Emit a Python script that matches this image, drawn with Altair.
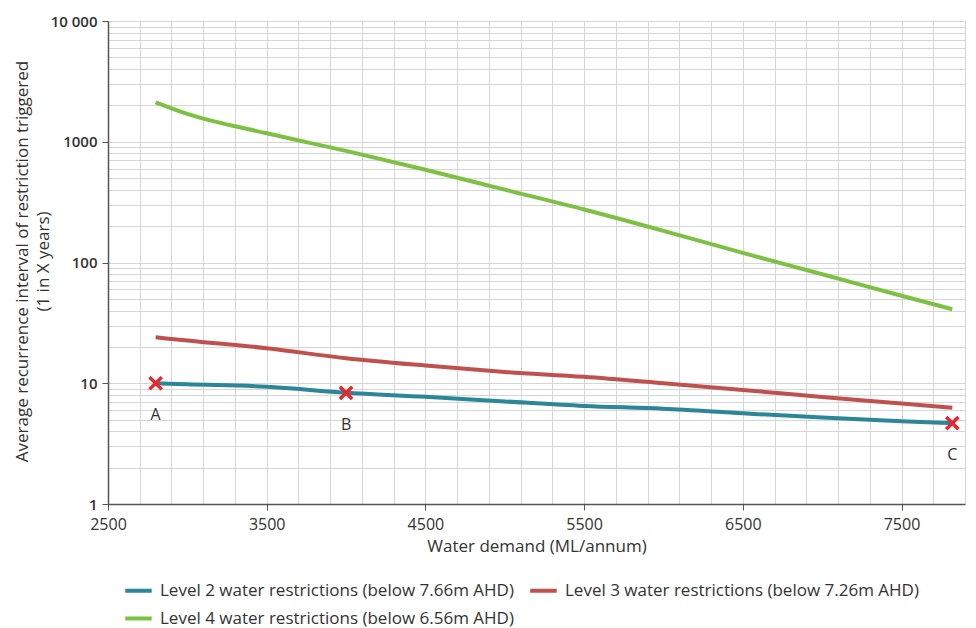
import altair as alt
import pandas as pd

# ---- data ----
demand = [2800, 3000, 3500, 4000, 4500, 5000, 5500, 6000, 6500, 7000, 7500, 7820]
level2 = [10.0, 9.8, 9.36, 8.34, 7.73, 7.07, 6.49, 6.15, 5.64, 5.20, 4.85, 4.68]
level3 = [24.0, 22.6, 19.5, 16.1, 14.0, 12.4, 11.3, 10.0, 8.8, 7.7, 6.8, 6.27]
level4 = [2120, 1700, 1175, 840, 586, 401, 275, 183, 120, 80, 53, 41]

series_names = [
    "Level 2 water restrictions (below 7.66m AHD)",
    "Level 3 water restrictions (below 7.26m AHD)",
    "Level 4 water restrictions (below 6.56m AHD)",
]
series_colors = ["#2b8699", "#c0504d", "#7cc142"]

point_demand = [2800, 4000, 7820]
point_value = [10.0, 8.34, 4.68]
point_label = ["A", "B", "C"]

x_grid = list(range(2500, 7901, 200))
y_grid = [m * 10 ** e for e in range(4) for m in range(1, 10)] + [10000]

# ---- build tables ----
rows = []
for name, vals in zip(series_names, [level2, level3, level4]):
    for d, v in zip(demand, vals):
        rows.append({"demand": d, "value": v, "series": name})
lines_df = pd.DataFrame(rows)
points_df = pd.DataFrame({"demand": point_demand, "value": point_value, "label": point_label})

FONT = "Open Sans"
TXT = "#333333"

x_scale = alt.Scale(domain=[2500, 7900], nice=False, zero=False)
y_scale = alt.Scale(type="log", domain=[1, 10000], nice=False)

x_axis = alt.Axis(
    values=x_grid,
    tickCount=200,
    format="d",
    labelExpr="(datum.value - 2500) % 1000 == 0 ? datum.label : ''",
    tickColor={"condition": {"test": "(datum.value - 2500) % 1000 == 0", "value": "#555555"},
               "value": "transparent"},
    tickSize=6,
    labelPadding=6,
    labelFontSize=16,
    labelColor=TXT,
    labelFont=FONT,
    labelOverlap=False,
    labelFlush=False,
    title="Water demand (ML/annum)",
    titleFont=FONT,
    titleFontSize=17,
    titleFontWeight="normal",
    titleColor=TXT,
    titlePadding=6,
    grid=True,
    gridColor="#d6d6d6",
    domainColor="#555555",
    domainWidth=1.5,
)

y_axis = alt.Axis(
    values=y_grid,
    tickCount=200,
    format=".0f",
    labelExpr="indexof([1,10,100,1000,10000], datum.value) >= 0 ? (datum.value == 10000 ? '10 000' : datum.label) : ''",
    tickColor={"condition": {"test": "indexof([1,10,100,1000,10000], datum.value) >= 0", "value": "#555555"},
               "value": "transparent"},
    tickSize=6,
    labelPadding=5,
    labelFontSize=15,
    labelFontWeight=600,
    labelColor=TXT,
    labelFont=FONT,
    labelOverlap=False,
    title=["Average recurrence interval of restriction triggered", "(1 in X years)"],
    titleFont=FONT,
    titleFontSize=17,
    titleFontWeight="normal",
    titleColor=TXT,
    titleLineHeight=21,
    titleAngle=270,
    titleX=-86,
    titleY=240,
    titleAlign="center",
    titleBaseline="middle",
    grid=True,
    gridColor="#d6d6d6",
    domainColor="#555555",
    domainWidth=1.5,
)

lines = alt.Chart(lines_df).mark_line(strokeWidth=4, interpolate="monotone").encode(
    x=alt.X("demand:Q", scale=x_scale, axis=x_axis),
    y=alt.Y("value:Q", scale=y_scale, axis=y_axis),
    color=alt.Color(
        "series:N",
        scale=alt.Scale(domain=series_names, range=series_colors),
        sort=series_names,
        legend=alt.Legend(
            orient="none",
            direction="horizontal",
            legendX=15,
            legendY=554,
            columns=2,
            title=None,
            symbolType="stroke",
            symbolStrokeWidth=4,
            symbolSize=700,
            labelFont=FONT,
            labelFontSize=17,
            labelColor=TXT,
            labelLimit=600,
            labelOffset=6,
            columnPadding=8,
            rowPadding=4,
        ),
    ),
    order=alt.Order("demand:Q"),
)

markers = alt.Chart(points_df).mark_point(
    shape="M-1,-1L1,1M-1,1L1,-1", size=150, strokeWidth=3.5, color="#e8262d", filled=False, opacity=1
).encode(
    x=alt.X("demand:Q", scale=x_scale),
    y=alt.Y("value:Q", scale=y_scale),
)

labels = alt.Chart(points_df).mark_text(
    dy=32, fontSize=16, font=FONT, color=TXT
).encode(
    x=alt.X("demand:Q", scale=x_scale),
    y=alt.Y("value:Q", scale=y_scale),
    text="label:N",
)

chart = alt.layer(lines, markers, labels).properties(
    width=857,
    height=483,
    autosize=alt.AutoSizeParams(type="none"),
    padding={"left": 100, "top": 13, "right": 3, "bottom": 124},
).configure_view(strokeWidth=0)

chart.save("out.html", embed_options={"renderer": "svg", "actions": False})
